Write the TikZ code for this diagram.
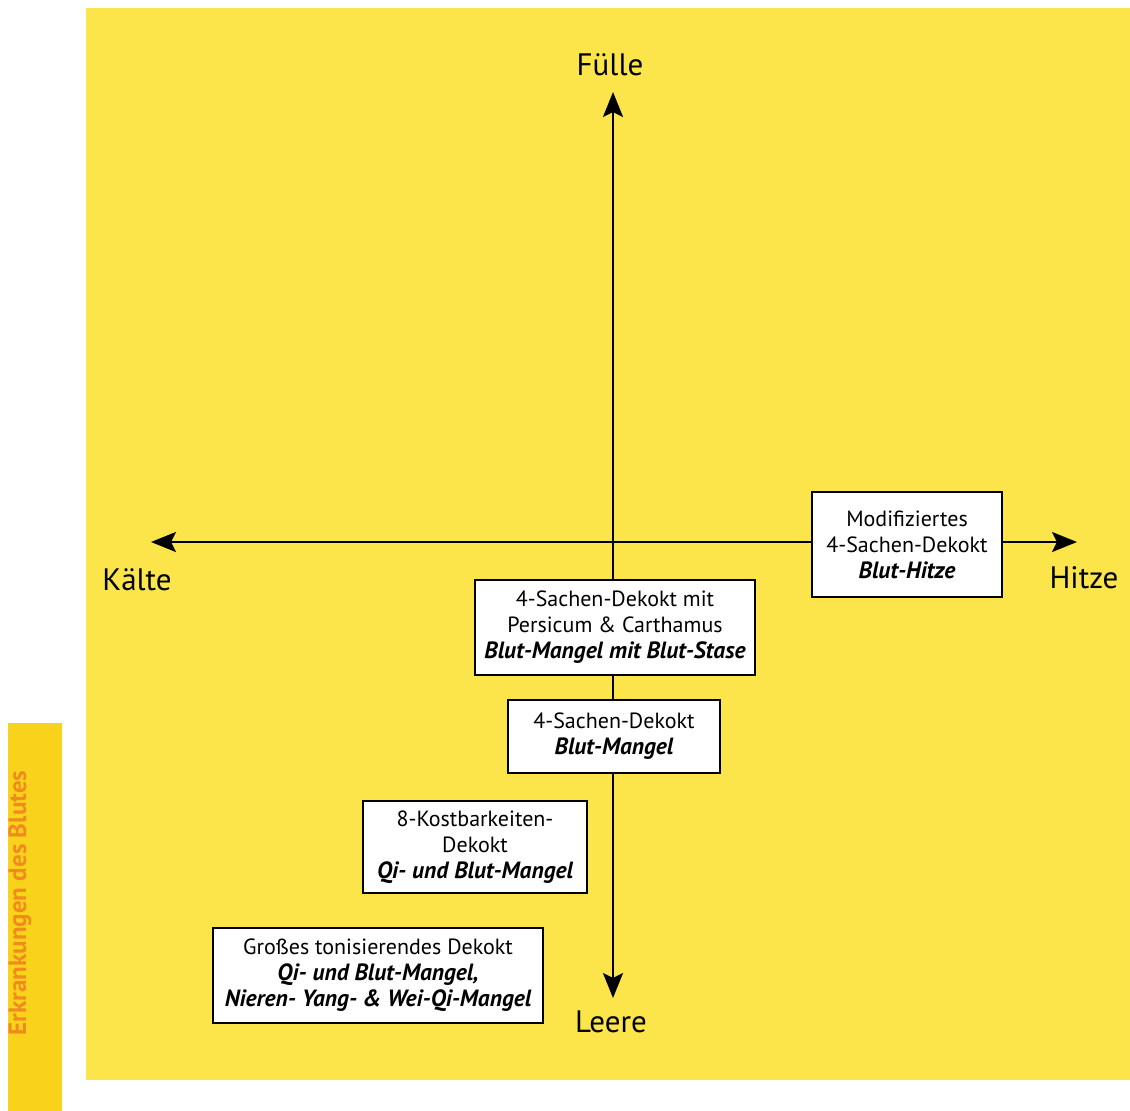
\documentclass[tikz,border=0pt]{standalone}
\usepackage{fontspec}
\setmainfont{PT Sans}
\usetikzlibrary{arrows.meta}
\definecolor{bgyellow}{RGB}{251,229,75}
\definecolor{tabyellow}{RGB}{249,210,28}
\definecolor{taborange}{RGB}{240,140,30}
\newcommand{\hl}[1]{{\fontsize{23.5}{26}\selectfont\bfseries\itshape #1}}
\begin{document}
\begin{tikzpicture}[x=1pt,y=-1pt,
  axis/.style={line width=2.5pt,-{Stealth[length=25pt,width=20pt,inset=5pt]}},
  box/.style={draw=black,line width=2pt,fill=white,inner sep=0pt,align=center,font=\fontsize{22}{26}\selectfont},
  axlabel/.style={font=\fontsize{31}{36}\selectfont,inner sep=0pt}]
\useasboundingbox (0,0) rectangle (1130,1111);
\fill[white] (0,0) rectangle (1130,1111);
\fill[bgyellow] (86,8) rectangle (1130,1080);
\fill[tabyellow] (8,723) rectangle (62,1111);
\begin{scope}
\clip (8,723) rectangle (62,1111);
\node[rotate=90, anchor=base, text=taborange, font=\bfseries\fontsize{25}{25}\selectfont, inner sep=0pt] (tab) at (26,903) {Erkrankungen des Blutes};
\end{scope}
% axes
\coordinate (O) at (613,542);
\coordinate (N) at (613,92);
\coordinate (S) at (613,998);
\coordinate (W) at (151,542);
\coordinate (E) at (1077,542);
\draw[axis] (O) -- (N);
\draw[axis] (O) -- (S);
\draw[axis] (O) -- (W);
\draw[axis] (O) -- (E);
% axis labels
\node[axlabel, anchor=base] (fuelle) at (610,75) {Fülle};
\node[axlabel, anchor=base] (leere) at (611,1032) {Leere};
\node[axlabel, anchor=base] (kaelte) at (137,590) {Kälte};
\node[axlabel, anchor=base] (hitze) at (1084,588) {Hitze};
% boxes
\node[box, minimum width=190pt, minimum height=105pt] (b1) at (907,544.5)
  {Modifiziertes\\4-Sachen-Dekokt\\\hl{Blut-Hitze}};
\node[box, minimum width=280pt, minimum height=95pt] (b2) at (615,627.5)
  {4-Sachen-Dekokt mit\\Persicum \& Carthamus\\\hl{Blut-Mangel mit Blut-Stase}};
\node[box, minimum width=212pt, minimum height=73pt] (b3) at (614,736.5)
  {4-Sachen-Dekokt\\\hl{Blut-Mangel}};
\node[box, minimum width=224pt, minimum height=92pt] (b4) at (475,847)
  {8-Kostbarkeiten-\\Dekokt\\\hl{Qi- und Blut-Mangel}};
\node[box, minimum width=330pt, minimum height=95pt] (b5) at (378,975.5)
  {Großes tonisierendes Dekokt\\\hl{Qi- und Blut-Mangel,}\\\hl{Nieren- Yang- \& Wei-Qi-Mangel}};
\end{tikzpicture}
\end{document}
